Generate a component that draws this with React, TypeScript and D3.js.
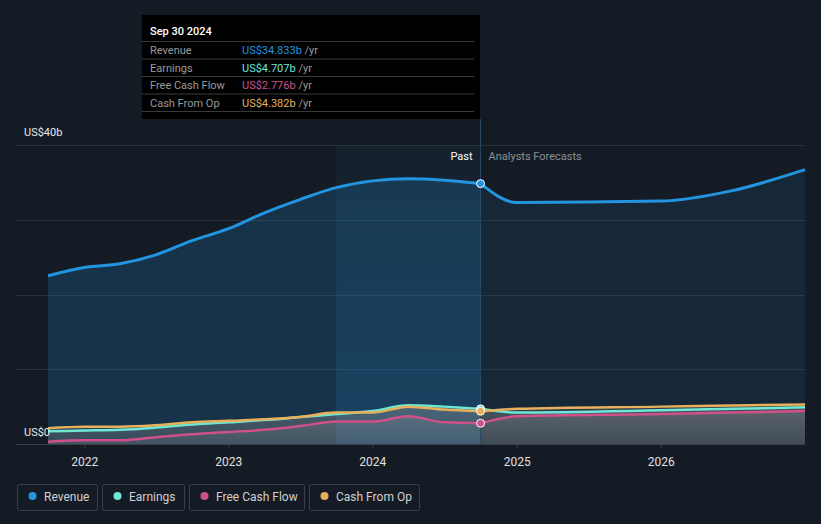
import React, { useEffect, useRef } from "react";
import * as d3 from "d3";

// quarterly history (trailing twelve months, US$ billions)
const pastDates = [
  "2021-09-30", "2021-12-31", "2022-03-31", "2022-06-30", "2022-09-30", "2022-12-31",
  "2023-03-31", "2023-06-30", "2023-09-30", "2023-12-31", "2024-03-31", "2024-06-30", "2024-09-30",
];
const pastRevenue = [22.5, 23.6, 24.1, 25.3, 27.2, 28.8, 30.9, 32.7, 34.3, 35.2, 35.5, 35.3, 34.833];
const pastEarnings = [1.7, 1.8, 1.9, 2.2, 2.6, 2.9, 3.2, 3.6, 4.0, 4.4, 5.2, 5.0, 4.707];
const pastFcf = [0.3, 0.5, 0.5, 0.9, 1.3, 1.6, 1.9, 2.4, 3.0, 3.0, 3.7, 2.9, 2.776];
const pastCfo = [2.1, 2.3, 2.3, 2.5, 2.9, 3.1, 3.3, 3.6, 4.2, 4.2, 5.0, 4.6, 4.382];

// analyst forecasts
const fcDates = ["2024-09-30", "2024-12-31", "2025-12-31", "2026-06-30", "2026-12-31"];
const fcRevenue = [34.833, 32.3, 32.5, 33.9, 36.7];
const fcEarnings = [4.707, 4.2, 4.5, 4.7, 4.9];
const fcFcf = [2.776, 3.7, 4.0, 4.2, 4.4];
const fcCfo = [4.382, 4.7, 5.0, 5.15, 5.3];

const yearTicks = ["2022", "2023", "2024", "2025", "2026"];

const series = [
  { key: "Revenue", color: "#2394df", past: pastRevenue, fc: fcRevenue, tip: "US$34.833b" },
  { key: "Earnings", color: "#6ee7d6", past: pastEarnings, fc: fcEarnings, tip: "US$4.707b" },
  { key: "Free Cash Flow", color: "#d0508a", past: pastFcf, fc: fcFcf, tip: "US$2.776b" },
  { key: "Cash From Op", color: "#e8b05a", past: pastCfo, fc: fcCfo, tip: "US$4.382b" },
];

const App = () => {
  const svgRef = useRef<SVGSVGElement>(null);

  useEffect(() => {
    document.body.style.margin = "0";
    document.body.style.background = "#151b24";
    const W = 821;
    const H = 524;
    const svg = d3.select(svgRef.current).attr("width", W).attr("height", H);
    svg.selectAll("*").remove();

    const parse = d3.timeParse("%Y-%m-%d");
    const x = d3
      .scaleTime()
      .domain([parse("2021-09-30")!, parse("2026-12-31")!])
      .range([48, 805]);
    const y = d3.scaleLinear().domain([0, 40]).range([444, 145]);

    svg.append("rect").attr("width", W).attr("height", H).attr("fill", "#151b24");

    const defs = svg.append("defs");
    const g1 = defs.append("linearGradient").attr("id", "band").attr("x1", 0).attr("x2", 0).attr("y1", 0).attr("y2", 1);
    g1.append("stop").attr("offset", "0%").attr("stop-color", "#2394df").attr("stop-opacity", 0.04);
    g1.append("stop").attr("offset", "100%").attr("stop-color", "#2394df").attr("stop-opacity", 0.16);
    const g2 = defs.append("linearGradient").attr("id", "lowfill").attr("x1", 0).attr("x2", 0).attr("y1", 0).attr("y2", 1);
    g2.append("stop").attr("offset", "0%").attr("stop-color", "#9a9a9a").attr("stop-opacity", 0.22);
    g2.append("stop").attr("offset", "100%").attr("stop-color", "#9a9a9a").attr("stop-opacity", 0.12);

    // gridlines
    [0, 10, 20, 30, 40].forEach((v) => {
      svg
        .append("line")
        .attr("x1", 16)
        .attr("x2", 805)
        .attr("y1", Math.round(y(v)) + 0.5)
        .attr("y2", Math.round(y(v)) + 0.5)
        .attr("stroke", v === 0 ? "#3a3f48" : "#2a303a")
        .attr("stroke-width", 1);
    });

    // highlighted last-year band
    const pastEnd = x(parse("2024-09-30")!);
    const bandStart = x(parse("2023-09-30")!);
    svg
      .append("rect")
      .attr("x", bandStart)
      .attr("y", y(40))
      .attr("width", pastEnd - bandStart)
      .attr("height", y(0) - y(40))
      .attr("fill", "url(#band)");

    const line = d3
      .line<[Date, number]>()
      .curve(d3.curveMonotoneX)
      .x((d) => x(d[0]))
      .y((d) => y(d[1]));
    const area = d3
      .area<[Date, number]>()
      .curve(d3.curveMonotoneX)
      .x((d) => x(d[0]))
      .y0(y(0))
      .y1((d) => y(d[1]));

    const build = (s: (typeof series)[number]) => {
      const p = pastDates.map((d, i) => [parse(d)!, s.past[i]] as [Date, number]);
      const f = fcDates.map((d, i) => [parse(d)!, s.fc[i]] as [Date, number]);
      return { p, f };
    };

    // revenue area
    const rev = build(series[0]);
    svg.append("path").attr("d", area(rev.p)).attr("fill", "#2394df").attr("fill-opacity", 0.2);
    svg.append("path").attr("d", area(rev.f)).attr("fill", "#2394df").attr("fill-opacity", 0.1);

    // low series areas
    series.slice(1).forEach((s) => {
      const d = build(s);
      svg.append("path").attr("d", area(d.p)).attr("fill", "url(#lowfill)");
      svg.append("path").attr("d", area(d.f)).attr("fill", "url(#lowfill)");
    });

    // lines, drawn in order so revenue is on top
    [series[2], series[1], series[3], series[0]].forEach((s) => {
      const d = build(s);
      svg
        .append("path")
        .attr("d", line(d.p))
        .attr("fill", "none")
        .attr("stroke", s.color)
        .attr("stroke-width", s.key === "Revenue" ? 3 : 2.5);
      svg
        .append("path")
        .attr("d", line(d.f))
        .attr("fill", "none")
        .attr("stroke", s.color)
        .attr("stroke-width", s.key === "Revenue" ? 3 : 2.5);
    });

    // vertical divider
    svg
      .append("line")
      .attr("x1", pastEnd)
      .attr("x2", pastEnd)
      .attr("y1", 15)
      .attr("y2", y(0))
      .attr("stroke", "#2b4a66")
      .attr("stroke-width", 1);

    // markers at the last actual point
    [series[2], series[1], series[3], series[0]].forEach((s) => {
      svg
        .append("circle")
        .attr("cx", pastEnd)
        .attr("cy", y(s.past[s.past.length - 1]))
        .attr("r", 4)
        .attr("fill", s.color)
        .attr("stroke", "#ffffff")
        .attr("stroke-width", 1);
    });

    // x axis
    const xg = svg.append("g").attr("font-family", "Roboto, sans-serif");
    yearTicks.forEach((t) => {
      const px = x(parse(`${t}-01-01`)!);
      xg.append("line")
        .attr("x1", px)
        .attr("x2", px)
        .attr("y1", y(0))
        .attr("y2", y(0) + 5)
        .attr("stroke", "#3a3f48");
      xg.append("text")
        .attr("x", px)
        .attr("y", 466)
        .attr("text-anchor", "middle")
        .attr("font-size", 12)
        .attr("fill", "#e0e0e0")
        .text(t);
    });

    // y labels
    const yl = svg.append("g").attr("font-family", "Roboto, sans-serif").attr("font-size", 11).attr("fill", "#e8e8e8");
    yl.append("text").attr("x", 24).attr("y", 136).text("US$40b");
    yl.append("text").attr("x", 24).attr("y", 436).text("US$0");

    // past / forecast labels
    svg
      .append("text")
      .attr("x", pastEnd - 8)
      .attr("y", 160)
      .attr("text-anchor", "end")
      .attr("font-family", "Roboto, sans-serif")
      .attr("font-size", 11)
      .attr("fill", "#ffffff")
      .text("Past");
    svg
      .append("text")
      .attr("x", pastEnd + 8)
      .attr("y", 160)
      .attr("font-family", "Roboto, sans-serif")
      .attr("font-size", 11)
      .attr("fill", "#8a8f96")
      .text("Analysts Forecasts");

    // tooltip
    const tip = svg.append("g").attr("font-family", "Roboto, sans-serif").attr("font-size", 11);
    tip.append("rect").attr("x", 142).attr("y", 15).attr("width", pastEnd - 142).attr("height", 104).attr("fill", "#000000");
    tip.append("text").attr("x", 150).attr("y", 35).attr("fill", "#ffffff").attr("font-weight", 500).text("Sep 30 2024");
    series.forEach((s, i) => {
      const ry = 41 + i * 17.5;
      tip.append("line")
        .attr("x1", 142)
        .attr("x2", 474)
        .attr("y1", ry + 0.5)
        .attr("y2", ry + 0.5)
        .attr("stroke", "#3a3a3a");
      tip.append("text").attr("x", 150).attr("y", ry + 13).attr("fill", "#9a9a9a").text(s.key);
      const t = tip.append("text").attr("x", 242).attr("y", ry + 13);
      t.append("tspan").attr("fill", s.color).text(s.tip);
      t.append("tspan").attr("fill", "#9a9a9a").text(" /yr");
    });
    tip.append("line")
      .attr("x1", 142)
      .attr("x2", 474)
      .attr("y1", 111.5)
      .attr("y2", 111.5)
      .attr("stroke", "#3a3a3a");

    // legend
    const legendX = [17, 102, 189, 309];
    const legendW = [80, 82, 115, 110];
    const lg = svg.append("g").attr("font-family", "Roboto, sans-serif").attr("font-size", 12);
    series.forEach((s, i) => {
      lg.append("rect")
        .attr("x", legendX[i] + 0.5)
        .attr("y", 484.5)
        .attr("width", legendW[i])
        .attr("height", 26)
        .attr("rx", 2)
        .attr("fill", "none")
        .attr("stroke", "#3a404a");
      lg.append("circle").attr("cx", legendX[i] + 15.5).attr("cy", 496).attr("r", 4).attr("fill", s.color);
      lg.append("text").attr("x", legendX[i] + 27).attr("y", 501).attr("fill", "#d0d0d0").text(s.key);
    });
  }, []);

  return <svg ref={svgRef} style={{ display: "block" }} />;
};

export default App;
